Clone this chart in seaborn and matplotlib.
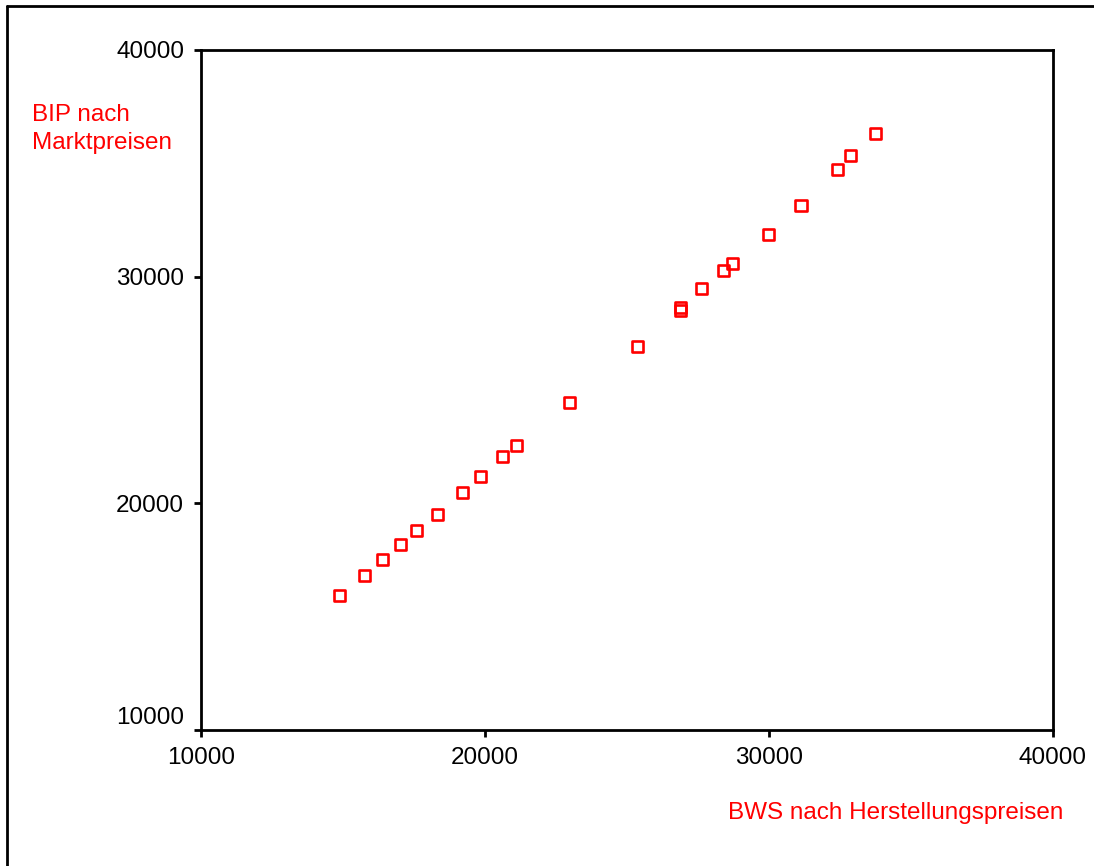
#!/usr/bin/env python
# -*- coding: utf-8 -*-
"""
BIP nach Marktpreisen gegen BWS nach Herstellungspreisen (Streudiagramm)
"""
import pandas as pd
import matplotlib
matplotlib.use('Agg')
import matplotlib.pyplot as plt
import matplotlib.transforms as mtransforms
from matplotlib.lines import Line2D
import seaborn as sns

# Daten
bws_herstellungspreise = [14880, 15760, 16410, 17030, 17610, 18320, 19200, 19850,
                          20630, 21130, 22970, 25360, 26890, 26890, 27620, 28390,
                          28730, 30000, 31130, 32410, 32870, 33750]
bip_marktpreise = [15920, 16820, 17520, 18200, 18800, 19490, 20490, 21190,
                   22080, 22570, 24440, 26920, 28620, 28510, 29490, 30290,
                   30600, 31860, 33150, 34740, 35340, 36330]
achsen_ticks = [10000, 20000, 30000, 40000]
x_titel = 'BWS nach Herstellungspreisen'
y_titel = 'BIP nach\nMarktpreisen'

sns.set_theme(style='ticks')
plt.rcParams['font.family'] = ['Liberation Sans', 'DejaVu Sans']

df = pd.DataFrame({'BWS': bws_herstellungspreise, 'BIP': bip_marktpreise})

fig = plt.figure(figsize=(10.94, 8.66), dpi=100)
ax = fig.add_axes([0.1835, 0.157, 0.779, 0.7853])

sns.scatterplot(data=df, x='BWS', y='BIP', marker='s', s=64,
                facecolor='none', edgecolor='#ff0000', linewidth=1.9, ax=ax)

ax.set_xlim(10000, 40000)
ax.set_ylim(10000, 40000)
ax.set_xticks(achsen_ticks)
ax.set_yticks(achsen_ticks)
ax.set_xlabel('')
ax.set_ylabel('')

for side in ['left', 'bottom', 'top', 'right']:
    ax.spines[side].set_visible(True)
    ax.spines[side].set_linewidth(2.0)
    ax.spines[side].set_color('black')

ax.tick_params(axis='both', direction='out', length=5, width=2.0,
               colors='black', labelsize=17.5, top=False, right=False)
ax.tick_params(axis='x', pad=7)
ax.tick_params(axis='y', pad=7)

# unterstes y-Label etwas nach oben schieben (wie in der Vorlage)
fig.canvas.draw()
ylabels = ax.get_yticklabels()
offset = mtransforms.ScaledTranslation(0, 15 / 100, fig.dpi_scale_trans)
ylabels[0].set_transform(ylabels[0].get_transform() + offset)

# Achsentitel in Rot
fig.text(32 / 1094, 1 - 104 / 866, y_titel, color='#ff0000', fontsize=17.5,
         ha='left', va='top', linespacing=1.35)
fig.text(896 / 1094, 1 - 813 / 866, x_titel, color='#ff0000', fontsize=17.5,
         ha='center', va='center')

# Rahmen oben und links
fig.add_artist(Line2D([7 / 1094, 7 / 1094], [0, 1 - 6 / 866],
                      transform=fig.transFigure, color='black', linewidth=2.0))
fig.add_artist(Line2D([7 / 1094, 1], [1 - 6 / 866, 1 - 6 / 866],
                      transform=fig.transFigure, color='black', linewidth=2.0))

fig.savefig('out.png', dpi=100)
